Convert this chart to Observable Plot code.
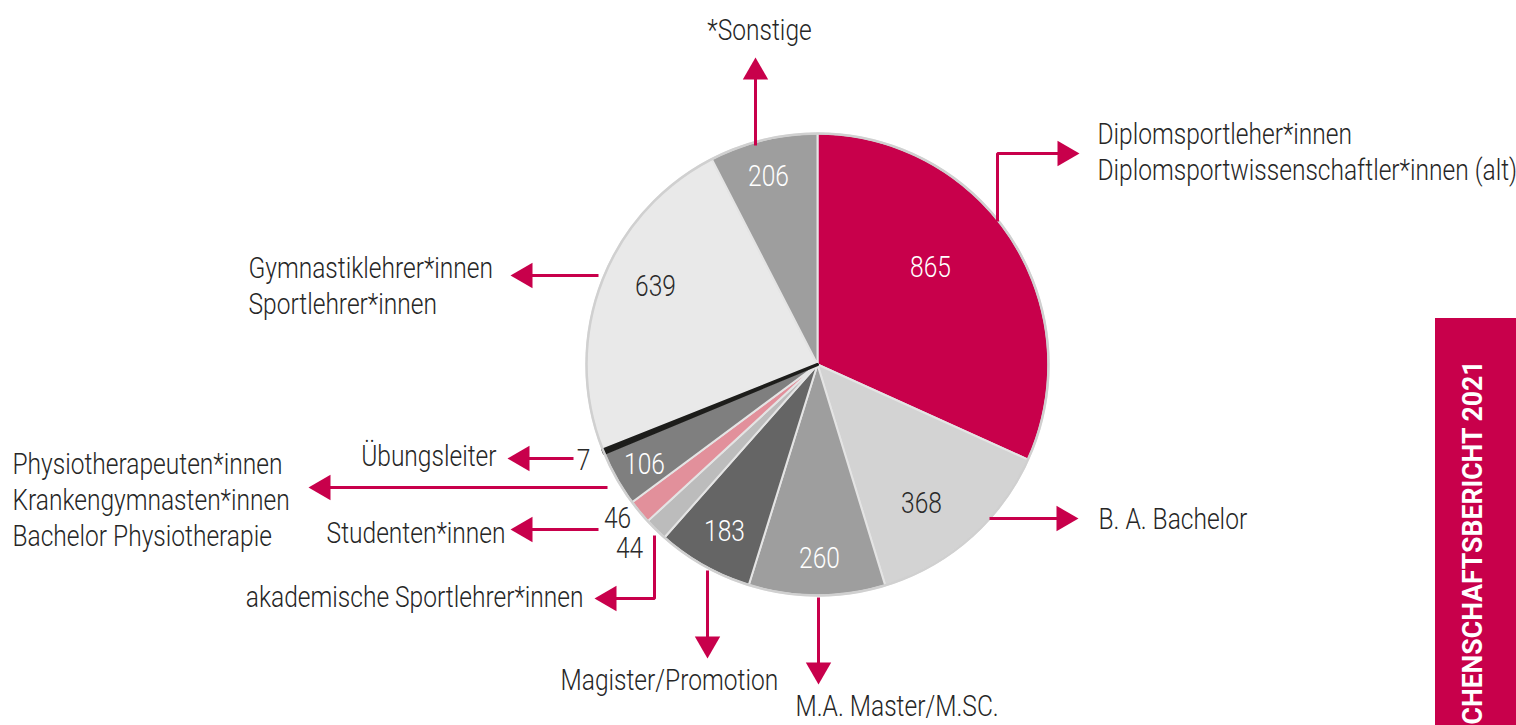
<!DOCTYPE html>
<html><head><meta charset="utf-8">
<script src="https://cdn.jsdelivr.net/npm/d3@7"></script>
<script src="https://cdn.jsdelivr.net/npm/@observablehq/plot@0.6"></script>
<style>html,body{margin:0;padding:0;background:#fff;overflow:hidden}svg{display:block}</style>
</head><body>
<div id="chart"></div>
<script>
// ---- data ----
const categories = [
  "Diplomsportleher*innen\nDiplomsportwissenschaftler*innen (alt)",
  "B. A. Bachelor",
  "M.A. Master/M.SC.",
  "Magister/Promotion",
  "akademische Sportlehrer*innen",
  "Studenten*innen",
  "Physiotherapeuten*innen\nKrankengymnasten*innen\nBachelor Physiotherapie",
  "Übungsleiter",
  "Gymnastiklehrer*innen\nSportlehrer*innen",
  "*Sonstige"
];
const values = [865, 368, 260, 183, 44, 46, 106, 7, 639, 206];
const bannerText = "CHENSCHAFTSBERICHT 2021";

// ---- styles ----
const crimson = "#c8004b";
const sliceColors = ["#c8004b", "#d3d3d3", "#9e9e9e", "#656565", "#bcbcbc", "#e2909b", "#7f7f7f", "#1d1d1b", "#e9e9e9", "#9e9e9e"];
const sliceStrokes = ["#e4e4e4", "#e4e4e4", "#e4e4e4", "#e4e4e4", "#e4e4e4", "#e4e4e4", "#e4e4e4", "#1d1d1b", "#e4e4e4", "#e4e4e4"];
const sliceStrokeWidths = [2, 2, 2, 2, 2, 2, 2, 3, 2, 2];
const valueTextColors = ["#fff", "#2a2a2a", "#fff", "#fff", "#2a2a2a", "#2a2a2a", "#fff", "#2a2a2a", "#2a2a2a", "#fff"];
const textColor = "#262626";
const font = "Roboto, 'Liberation Sans', Arial, sans-serif";
const fontSize = 29;

// ---- layout (pixels) ----
const W = 1516, H = 725;
const pieCenter = {x: 817, y: 364};
const pieRadius = 231;
const valueLabelPos = [[930,276],[921,512],[819,567],[724,540],[629,557],[617,527],[644,473],[583,469],[655,295],[768,185]];
const categoryLabelPos = [
  {x:1097, y:179, anchor:"start"},
  {x:1098, y:528, anchor:"start"},
  {x:795,  y:715, anchor:"start"},
  {x:560,  y:689, anchor:"start"},
  {x:583,  y:606, anchor:"end"},
  {x:505,  y:542, anchor:"end"},
  {x:12,   y:545, anchor:"start"},
  {x:496,  y:465, anchor:"end"},
  {x:248,  y:313, anchor:"start"},
  {x:759,  y:39,  anchor:"middle"}
];
const leaders = [
  {pts:[[997,221],[997,153]], tip:[1079,153], rot:90},
  {pts:[[989,518]], tip:[1078,518], rot:90},
  {pts:[[818,597]], tip:[818,684], rot:180},
  {pts:[[707,570]], tip:[707,658], rot:180},
  {pts:[[654,535],[654,598]], tip:[594,598], rot:-90},
  {pts:[[598,529]], tip:[510,529], rot:-90},
  {pts:[[607,487]], tip:[308,487], rot:-90},
  {pts:[[573,458]], tip:[507,458], rot:-90},
  {pts:[[598,275]], tip:[510,275], rot:-90},
  {pts:[[755,145]], tip:[755,57], rot:0}
];
const banner = {x1:1435, x2:1516, y1:318, y2:725, textX:1473, textY:724, textLen:364};
const arrowH = 22;
const labelTargetWidth = {text: "Physiotherapeuten*innen", width: 270};

// ---- derived geometry ----
const arcs = d3.pie().sort(null).value(d => d)(values);
const slicePolys = arcs.map((a, i) => {
  const n = Math.max(2, Math.ceil((a.endAngle - a.startAngle) / (Math.PI / 360)));
  const pts = [{x: pieCenter.x, y: pieCenter.y}];
  for (let j = 0; j <= n; j++) {
    const t = a.startAngle + (a.endAngle - a.startAngle) * j / n;
    pts.push({x: pieCenter.x + pieRadius * Math.sin(t), y: pieCenter.y - pieRadius * Math.cos(t)});
  }
  pts.push({x: pieCenter.x, y: pieCenter.y});
  return pts;
});
// draw the tiny black slice last so its outline stays visible
const drawOrder = d3.range(values.length).sort((a, b) => (sliceStrokes[a] === sliceColors[a]) - (sliceStrokes[b] === sliceColors[b]));

const leaderLines = leaders.flatMap((l, i) => {
  const r = l.rot * Math.PI / 180, dx = Math.sin(r), dy = -Math.cos(r);
  const end = [l.tip[0] - dx * (arrowH - 4), l.tip[1] - dy * (arrowH - 4)];
  return [...l.pts, end].map(p => ({k: i, x: p[0], y: p[1]}));
});
const arrowHeads = leaders.map(l => {
  const r = l.rot * Math.PI / 180, dx = Math.sin(r), dy = -Math.cos(r);
  return {x: l.tip[0] - dx * arrowH * 2 / 3, y: l.tip[1] - dy * arrowH * 2 / 3, rot: l.rot};
});
const triR = Math.sqrt((arrowH / 3) ** 2 * 3 * Math.sqrt(3) / Math.PI);

const valueLabels = values.map((v, i) => ({x: valueLabelPos[i][0], y: valueLabelPos[i][1], text: String(v), fill: valueTextColors[i]}));

const svg = Plot.plot({
  width: W, height: H, margin: 0,
  x: {type: "linear", domain: [0, W], range: [0, W], axis: null},
  y: {type: "linear", domain: [0, H], range: [0, H], axis: null},
  style: {background: "#fff", fontFamily: font},
  marks: [
    ...drawOrder.map(i => Plot.line(slicePolys[i], {x: "x", y: "y", fill: sliceColors[i], stroke: sliceStrokes[i], strokeWidth: sliceStrokeWidths[i], strokeLinejoin: "round"})),
    Plot.dot([pieCenter], {x: "x", y: "y", r: pieRadius, fill: "none", stroke: "#d0d0d0", strokeWidth: 2.5}),
    Plot.line(leaderLines, {x: "x", y: "y", z: "k", stroke: crimson, strokeWidth: 3, strokeLinejoin: "miter", strokeLinecap: "butt"}),
    Plot.dot(arrowHeads, {x: "x", y: "y", symbol: "triangle", r: triR, rotate: "rot", fill: crimson, stroke: "none"}),
    Plot.text(valueLabels, {x: "x", y: "y", text: "text", fill: "fill", fontSize, fontWeight: 300, fontFamily: font, textAnchor: "middle", lineAnchor: "bottom"}),
    ...categories.map((c, i) => Plot.text([c], {x: () => categoryLabelPos[i].x, y: () => categoryLabelPos[i].y, text: d => d, fill: textColor, fontSize, fontWeight: 300, fontFamily: font, textAnchor: categoryLabelPos[i].anchor, lineAnchor: "bottom", lineHeight: 1.23})),
    Plot.rect([banner], {x1: "x1", x2: "x2", y1: "y1", y2: "y2", fill: crimson}),
    Plot.text([bannerText], {x: () => banner.textX, y: () => banner.textY, text: d => d, rotate: -90, textAnchor: "start", lineAnchor: "middle", fill: "#fff", fontSize: 28, fontWeight: 700, fontFamily: font})
  ]
});
document.getElementById("chart").append(svg);

// condense type (reference uses a condensed face)
let labelW = null, bannerW = null;
for (const t of svg.querySelectorAll("text, tspan")) {
  if (t.textContent === labelTargetWidth.text && labelW == null) labelW = t.getComputedTextLength();
  if (t.textContent === bannerText && bannerW == null) bannerW = t.getComputedTextLength();
}
const kLabel = labelW ? labelTargetWidth.width / labelW : 0.85;
const kBanner = bannerW ? banner.textLen / bannerW : 0.8;
for (const t of svg.querySelectorAll("text")) {
  const k = t.textContent === bannerText ? kBanner : kLabel;
  t.setAttribute("transform", (t.getAttribute("transform") || "") + ` scale(${k},1)`);
}
</script>
</body></html>
